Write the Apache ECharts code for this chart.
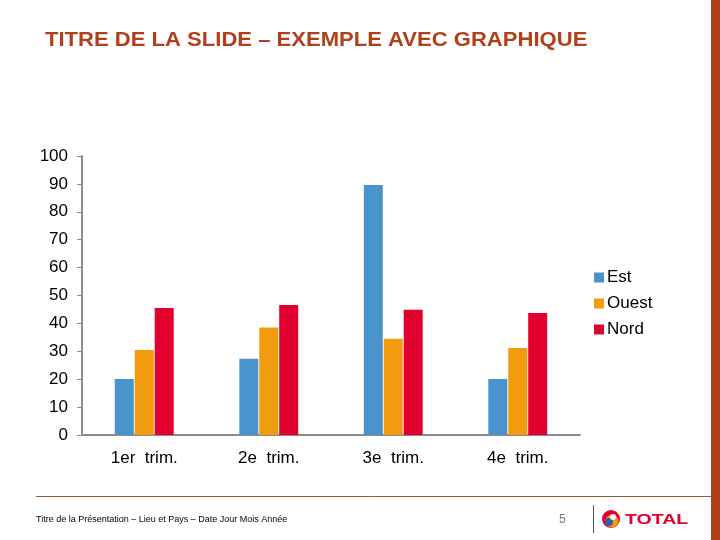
<!DOCTYPE html>
<html>
<head>
<meta charset="utf-8">
<style>
html,body{margin:0;padding:0;background:#fff;}
#chart{width:720px;height:540px;}
</style>
<script src="https://cdn.jsdelivr.net/npm/echarts@6/dist/echarts.min.js"></script>
</head>
<body>
<div id="chart"></div>
<script>
var categories = ['1er  trim.', '2e  trim.', '3e  trim.', '4e  trim.'];
var seriesNames = ['Est', 'Ouest', 'Nord'];
var est = [20.1, 27.3, 89.6, 20.1];
var ouest = [30.5, 38.5, 34.5, 31.2];
var nord = [45.5, 46.6, 44.9, 43.7];
var yTicks = [0, 10, 20, 30, 40, 50, 60, 70, 80, 90, 100];
var colors = ['#4A94CD', '#F29B0F', '#E2002E'];

var chart = echarts.init(document.getElementById('chart'));
var font = 'Liberation Sans, Arial, sans-serif';
chart.setOption({
  animation: false,
  backgroundColor: '#fff',
  legend: {
    orient: 'vertical', left: 589, top: 264,
    itemWidth: 10, itemHeight: 10, itemGap: 9,
    icon: 'rect',
    data: seriesNames,
    textStyle: {color: '#000', fontSize: 17, fontFamily: font, padding: [0, 0, 0, -2]}
  },
  grid: {left: 82, right: 140, top: 156, bottom: 105},
  xAxis: {
    type: 'category', data: categories,
    axisLine: {lineStyle: {color: '#8C8C8C', width: 2}},
    axisTick: {show: false},
    axisLabel: {color: '#000', fontSize: 17, fontFamily: font, margin: 15}
  },
  yAxis: {
    type: 'value', min: yTicks[0], max: yTicks[yTicks.length - 1], interval: 10,
    axisLine: {show: true, lineStyle: {color: '#8C8C8C', width: 2}},
    axisTick: {show: true, length: 5, lineStyle: {color: '#8C8C8C', width: 1}},
    splitLine: {show: false},
    axisLabel: {color: '#000', fontSize: 17, fontFamily: font, margin: 14}
  },
  series: [
    {name: seriesNames[0], type: 'bar', data: est, itemStyle: {color: colors[0]}, barWidth: 19, barGap: '5%'},
    {name: seriesNames[1], type: 'bar', data: ouest, itemStyle: {color: colors[1]}, barWidth: 19, barGap: '5%'},
    {name: seriesNames[2], type: 'bar', data: nord, itemStyle: {color: colors[2]}, barWidth: 19, barGap: '5%'}
  ],
  graphic: [
    {type: 'text', x: 45, y: 40, scaleX: 1.05, style: {text: 'TITRE DE LA SLIDE – EXEMPLE AVEC GRAPHIQUE', fill: '#B0401A', font: 'bold 21px ' + font, textVerticalAlign: 'middle'}},
    {type: 'rect', shape: {x: 711, y: 0, width: 9, height: 540}, style: {fill: '#B0401A'}},
    {type: 'line', shape: {x1: 36, y1: 496.5, x2: 711, y2: 496.5}, style: {stroke: '#8B5A3C', lineWidth: 1}},
    {type: 'text', x: 36, y: 520, style: {text: 'Titre de la Présentation – Lieu et Pays – Date Jour Mois Année', fill: '#000', font: '9px ' + font, textVerticalAlign: 'middle'}},
    {type: 'text', x: 559, y: 520, style: {text: '5', fill: '#777', font: '12px ' + font, textVerticalAlign: 'middle'}},
    {type: 'line', shape: {x1: 593.5, y1: 505, x2: 593.5, y2: 533}, style: {stroke: '#555', lineWidth: 1}},
    {type: 'circle', shape: {cx: 611, cy: 519, r: 9}, style: {fill: '#E2002E'}},
    {type: 'circle', shape: {cx: 612, cy: 521, r: 6.5}, style: {fill: '#F29B0F'}},
    {type: 'circle', shape: {cx: 609, cy: 522, r: 4}, style: {fill: '#2E5EAA'}},
    {type: 'circle', shape: {cx: 613, cy: 517, r: 3}, style: {fill: '#fff'}},
    {type: 'text', x: 625, y: 520, scaleX: 1.3, style: {text: 'TOTAL', fill: '#E2002E', font: 'bold 15px ' + font, textVerticalAlign: 'middle'}}
  ]
});
</script>
</body>
</html>
